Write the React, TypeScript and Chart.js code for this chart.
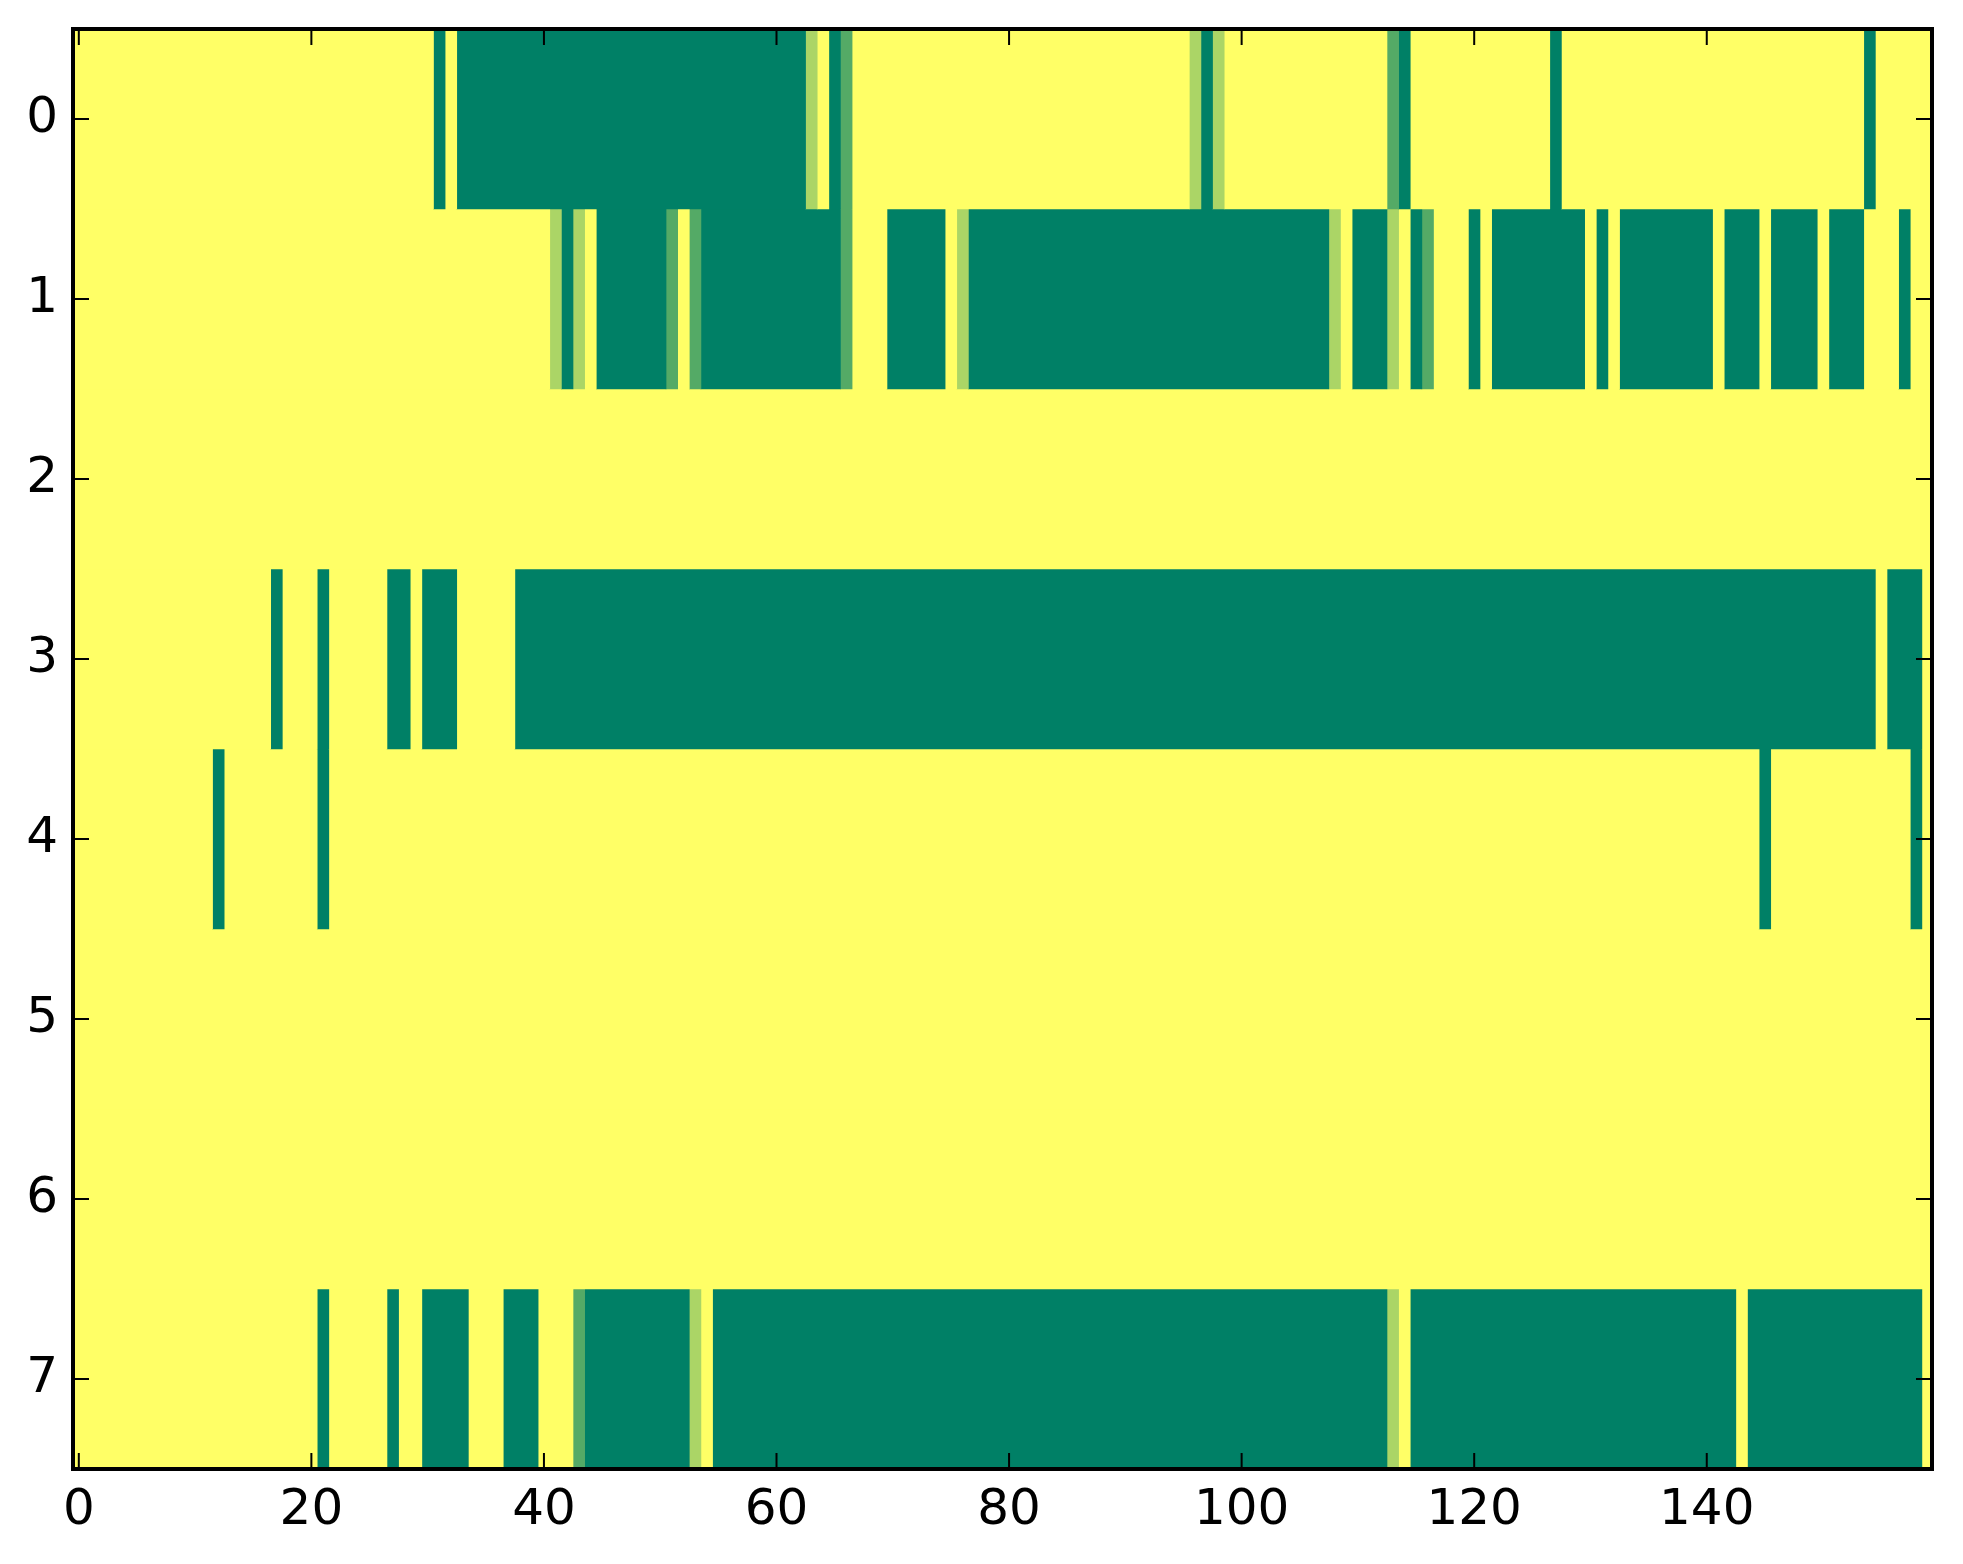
import React, { useEffect, useRef } from "react";
import { Chart, registerables } from "chart.js";

Chart.register(...registerables);

// Row labels (y axis categories) and x tick labels
const ROW_LABELS = ["0", "1", "2", "3", "4", "5", "6", "7"];
const X_TICKS = [0, 20, 40, 60, 80, 100, 120, 140];

// Cell values per row, as runs of [value, number of consecutive columns] (160 columns, 0..159)
const ROW0: [number, number][] = [[1,31],[0,1],[1,1],[0,30],[0.67,1],[1,1],[0,1],[0.33,1],[1,29],[0.67,1],[0,1],[0.67,1],[1,14],[0.33,1],[0,1],[1,12],[0,1],[1,26],[0,1],[1,5]];
const ROW1: [number, number][] = [[1,41],[0.67,1],[0,1],[0.67,1],[1,1],[0,6],[0.33,1],[1,1],[0.33,1],[0,12],[0.33,1],[1,3],[0,5],[1,1],[0.67,1],[0,31],[0.67,1],[1,1],[0,3],[0.67,1],[1,1],[0,1],[0.33,1],[1,3],[0,1],[1,1],[0,8],[1,1],[0,1],[1,1],[0,8],[1,1],[0,3],[1,1],[0,4],[1,1],[0,3],[1,3],[0,1],[1,2]];
const ROW2: [number, number][] = [[1,160]];
const ROW3: [number, number][] = [[1,17],[0,1],[1,3],[0,1],[1,5],[0,2],[1,1],[0,3],[1,5],[0,117],[1,1],[0,3],[1,1]];
const ROW4: [number, number][] = [[1,12],[0,1],[1,8],[0,1],[1,123],[0,1],[1,12],[0,1],[1,1]];
const ROW5: [number, number][] = [[1,160]];
const ROW6: [number, number][] = [[1,160]];
const ROW7: [number, number][] = [[1,21],[0,1],[1,5],[0,1],[1,2],[0,4],[1,3],[0,3],[1,3],[0.33,1],[0,9],[0.67,1],[1,1],[0,58],[0.67,1],[1,1],[0,28],[1,1],[0,15],[1,1]];

const ROWS = [ROW0, ROW1, ROW2, ROW3, ROW4, ROW5, ROW6, ROW7];

// matplotlib "summer" colormap
function summer(v: number): string {
  const r = Math.round(255 * v);
  const g = Math.round(255 * (0.5 + v / 2));
  const b = Math.round(255 * 0.4);
  return `rgb(${r},${g},${b})`;
}

const FONT = { family: "'DejaVu Sans', sans-serif", size: 50 };

const framePlugin = {
  id: "mplFrame",
  afterDatasetsDraw(chart: any) {
    const { ctx, chartArea } = chart;
    const { left, right, top, bottom } = chartArea;
    const xs = chart.scales.x;
    const ys = chart.scales.y;
    const tl = 16;
    ctx.save();
    ctx.strokeStyle = "#000";
    ctx.lineWidth = 2;
    ctx.beginPath();
    xs.ticks.forEach((t: any) => {
      const px = xs.getPixelForValue(t.value);
      ctx.moveTo(px, bottom);
      ctx.lineTo(px, bottom - tl);
      ctx.moveTo(px, top);
      ctx.lineTo(px, top + tl);
    });
    ys.ticks.forEach((_t: any, i: number) => {
      const py = ys.getPixelForTick(i);
      ctx.moveTo(left, py);
      ctx.lineTo(left + tl, py);
      ctx.moveTo(right, py);
      ctx.lineTo(right - tl, py);
    });
    ctx.stroke();
    ctx.lineWidth = 4;
    ctx.strokeRect(left, top, right - left, bottom - top);
    ctx.restore();
  },
};

export default function App() {
  const ref = useRef<HTMLCanvasElement | null>(null);

  useEffect(() => {
    if (!ref.current) return;
    const datasets: any[] = [];
    ROWS.forEach((runs, r) => {
      let start = 0;
      runs.forEach(([v, n]) => {
        const data = ROW_LABELS.map((_, i) => (i === r ? [start - 0.5, start + n - 0.5] : null));
        datasets.push({
          data,
          backgroundColor: summer(v),
          borderWidth: 0,
          grouped: false,
          barPercentage: 1,
          categoryPercentage: 1,
        });
        start += n;
      });
    });

    const chart = new Chart(ref.current, {
      type: "bar",
      data: { labels: ROW_LABELS, datasets },
      options: {
        indexAxis: "y",
        animation: false,
        responsive: false,
        devicePixelRatio: 1,
        layout: { padding: { top: 29, right: 31, left: 0, bottom: 0 } },
        plugins: { legend: { display: false }, tooltip: { enabled: false } },
        scales: {
          x: {
            type: "linear",
            position: "bottom",
            min: -0.5,
            max: 159.37,
            grid: { display: false, drawTicks: false },
            border: { display: false },
            afterBuildTicks: (s: any) => {
              s.ticks = X_TICKS.map((v) => ({ value: v }));
            },
            afterFit: (s: any) => {
              s.height = 95;
              s.paddingLeft = 0;
              s.paddingRight = 0;
              s.paddingTop = 0;
              s.paddingBottom = 0;
            },
            ticks: { font: FONT, color: "#000", padding: 12, maxRotation: 0, autoSkip: false },
          },
          y: {
            type: "category",
            position: "left",
            offset: true,
            grid: { display: false, drawTicks: false },
            border: { display: false },
            afterFit: (s: any) => {
              s.width = 73;
              s.paddingTop = 0;
              s.paddingBottom = 0;
              s.paddingLeft = 0;
              s.paddingRight = 0;
            },
            ticks: { font: FONT, color: "#000", padding: 15, autoSkip: false },
          },
        },
      },
      plugins: [framePlugin],
    });
    return () => chart.destroy();
  }, []);

  return (
    <div style={{ position: "absolute", left: 0, top: 0, width: 1963, height: 1564, background: "#fff" }}>
      <canvas ref={ref} width={1963} height={1564} style={{ width: 1963, height: 1564, display: "block" }} />
    </div>
  );
}
